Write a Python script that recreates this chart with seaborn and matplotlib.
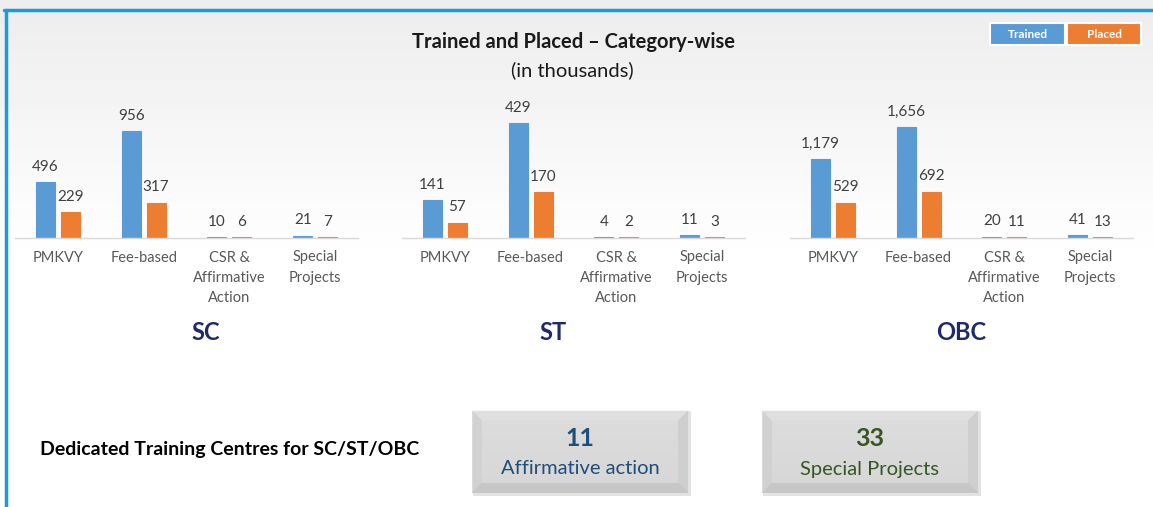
import numpy as np
import pandas as pd
import matplotlib.pyplot as plt
import seaborn as sns
from matplotlib.lines import Line2D
from matplotlib.patches import Rectangle

# data (in thousands)
schemes = ["PMKVY", "Fee-based", "CSR &\nAffirmative\nAction", "Special\nProjects"]
groups = ["SC", "ST", "OBC"]
sc_trained = [496, 956, 10, 21]
sc_placed = [229, 317, 6, 7]
st_trained = [141, 429, 4, 11]
st_placed = [57, 170, 2, 3]
obc_trained = [1179, 1656, 20, 41]
obc_placed = [529, 692, 11, 13]
centre_counts = [11, 33]
centre_labels = ["Affirmative action", "Special Projects"]

blue = "#5B9BD5"
orange = "#ED7D31"

sns.set_theme(style="white")
plt.rcParams["font.family"] = ["Lato", "DejaVu Sans"]

W, H = 1153, 507
fig = plt.figure(figsize=(W / 100, H / 100), dpi=100)


def fx(px):
    return px / W


def fy(py):
    return 1 - py / H


# background: light grey at top fading to white
bg = fig.add_axes([0, 0, 1, 1], zorder=-10)
rows = np.arange(H)
shade = np.clip(0.93 + 0.07 * (rows - 10) / 250, 0.93, 1.0)
bg.imshow(np.tile(shade[:, None], (1, 4)), cmap="gray", vmin=0, vmax=1,
          aspect="auto", extent=[0, 1, 0, 1])
bg.axis("off")

# blue frame (top and left)
fig.add_artist(Line2D([fx(4), 1], [fy(10), fy(10)], color="#1A9AE0", lw=2.5))
fig.add_artist(Line2D([fx(5.5), fx(5.5)], [0, fy(10)], color="#1A9AE0", lw=2.5))

data = {
    "SC": (sc_trained, sc_placed),
    "ST": (st_trained, st_placed),
    "OBC": (obc_trained, obc_placed),
}
left_px = [15, 402, 790]
top_scale = [1.29, 1.20, 1.245]
label_x = [206, 553, 961]

for g, lx, k, tx in zip(groups, left_px, top_scale, label_x):
    trained, placed = data[g]
    df = pd.DataFrame({
        "scheme": schemes * 2,
        "status": ["Trained"] * 4 + ["Placed"] * 4,
        "value": trained + placed,
    })
    ax = fig.add_axes([fx(lx), fy(238), fx(343), 138 / H])
    ax.set_facecolor("none")
    sns.barplot(data=df, x="scheme", y="value", hue="status",
                hue_order=["Trained", "Placed"], palette=[blue, orange],
                width=0.58, gap=0.24, saturation=1, ax=ax, legend=False,
                errorbar=None)
    for c in ax.containers:
        for p in c:
            p.set_edgecolor(p.get_facecolor())
            p.set_linewidth(0.8)
        ax.bar_label(c, labels=[f"{v:,.0f}" for v in c.datavalues],
                     padding=6, fontsize=11, color="#404040")
    ax.set_ylim(0, max(trained) * k)
    ax.set_xlim(-0.5, 3.5)
    ax.set_xlabel("")
    ax.set_ylabel("")
    ax.set_yticks([])
    ax.tick_params(axis="x", length=0, pad=9, labelsize=10.5,
                   labelcolor="#595959")
    for lab in ax.get_xticklabels():
        lab.set_linespacing(1.55)
    for s in ["top", "left", "right"]:
        ax.spines[s].set_visible(False)
    ax.spines["bottom"].set_color("#D9D9D9")
    ax.spines["bottom"].set_linewidth(1)
    fig.text(fx(tx), fy(333), g, ha="center", va="center", fontsize=17,
             fontweight="bold", color="#1F2A6B")

# title
fig.text(fx(574), fy(42), "Trained and Placed \u2013 Category-wise", ha="center",
         va="center", fontsize=14.5, fontweight="bold", color="#1A1A1A")
fig.text(fx(572), fy(70), "(in thousands)", ha="center", va="center",
         fontsize=14.5, color="#1A1A1A")

# legend boxes
for x0, w, col, txt in [(990, 75, blue, "Trained"), (1067, 74, orange, "Placed")]:
    fig.add_artist(Rectangle((fx(x0), fy(45)), fx(w), 22 / H, facecolor=col,
                             edgecolor="white", lw=1.5))
    fig.text(fx(x0 + w / 2), fy(34), txt, ha="center", va="center",
             fontsize=8.5, fontweight="bold", color="white")

# dedicated training centres
fig.text(fx(40), fy(449), "Dedicated Training Centres for SC/ST/OBC",
         ha="left", va="center", fontsize=14, fontweight="bold", color="black")


def bevel_image(h, w, b=10):
    yy, xx = np.mgrid[0:h, 0:w]
    img = 0.95 - 0.05 * yy / h
    dt, db, dl, dr = yy, h - 1 - yy, xx, w - 1 - xx
    d = np.minimum(np.minimum(dt, db), np.minimum(dl, dr))
    edge = d < b
    img = np.where(edge & (d == dt), 0.97, img)
    img = np.where(edge & (d == db), 0.78, img)
    img = np.where(edge & (d == dl) & (d != dt) & (d != db), 0.86, img)
    img = np.where(edge & (d == dr) & (d != dt) & (d != db), 0.84, img)
    return img


box_left = [472, 762]
text_cols = ["#1F4E79", "#375623"]
for n, lab, bx, col in zip(centre_counts, centre_labels, box_left, text_cols):
    # soft shadow
    fig.add_artist(Rectangle((fx(bx + 1), fy(496)), fx(218), 85 / H,
                             facecolor="#C8C8C8", edgecolor="none", alpha=0.5))
    bax = fig.add_axes([fx(bx), fy(493), fx(216), 83 / H])
    bax.imshow(bevel_image(83, 216), cmap="gray", vmin=0, vmax=1, aspect="auto")
    bax.axis("off")
    fig.text(fx(bx + 108), fy(438), str(n), ha="center", va="center",
             fontsize=18, fontweight="bold", color=col)
    fig.text(fx(bx + 108), fy(469), lab, ha="center", va="center",
             fontsize=14.5, color=col)

fig.savefig("out.png", dpi=100)
